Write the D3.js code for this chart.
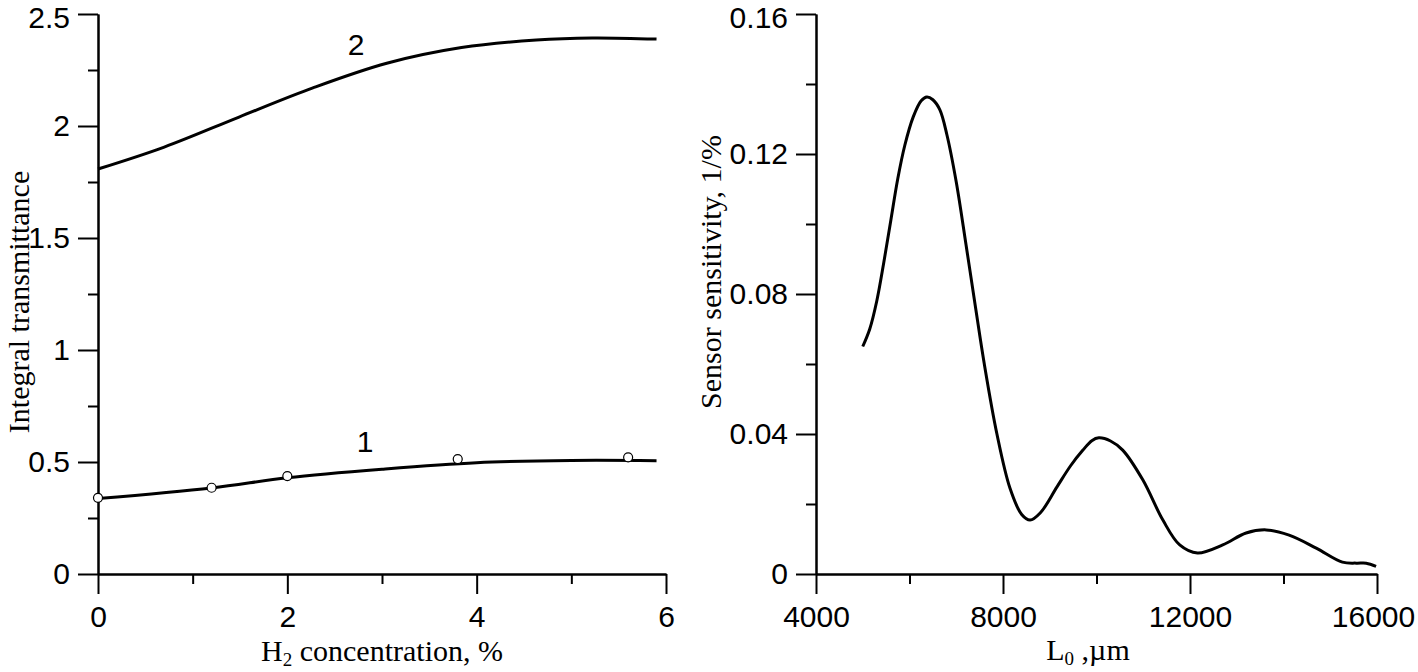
<!DOCTYPE html>
<html>
<head>
<meta charset="utf-8">
<script src="https://cdn.jsdelivr.net/npm/d3@7"></script>
<style>
  body { margin: 0; background: #fff; }
  .axis path, .axis line { stroke: #000; stroke-width: 2; }
  .axis text { font-family: "Liberation Sans", Arial, sans-serif; font-size: 30px; fill: #000; }
  .title { font-family: "Liberation Serif", "Times New Roman", serif; font-size: 30px; fill: #000; }
  .curve { fill: none; stroke: #000; stroke-width: 3; }
</style>
</head>
<body>
<script>
// left panel: integral transmittance vs H2 concentration
const conc1 = [0, 1.2, 2, 3, 4, 5, 5.9];
const trans1 = [0.337, 0.384, 0.430, 0.468, 0.497, 0.507, 0.506];
const conc2 = [0, 0.7, 1.49, 2.27, 3.05, 3.84, 4.63, 5.22, 5.9];
const trans2 = [1.808, 1.906, 2.04, 2.17, 2.28, 2.35, 2.384, 2.393, 2.388];
// measured points (open circles)
const measConc = [0, 1.2, 2, 3.8, 5.6];
const measTrans = [0.34, 0.385, 0.437, 0.513, 0.521];

// right panel: sensor sensitivity vs L0
const lengths = [5000, 5150, 5300, 5450, 5600, 5750, 5900, 6080, 6250, 6370, 6500, 6650, 6800,
  7000, 7210, 7420, 7600, 7870, 8150, 8400, 8580, 8800, 9155, 9450, 9710, 9900, 10050, 10300,
  10560, 10990, 11420, 11780, 12160, 12700, 13200, 13630, 14120, 14700, 15260, 15560, 15770, 15980];
const sens = [0.065, 0.070, 0.078, 0.089, 0.101, 0.113, 0.1225, 0.1306, 0.1352, 0.1363, 0.1355, 0.1326, 0.1255,
  0.112, 0.094, 0.0755, 0.060, 0.040, 0.0245, 0.0170, 0.0154, 0.0175, 0.0249, 0.031, 0.0354, 0.0381, 0.0389, 0.0380,
  0.0354, 0.0269, 0.0154, 0.0083, 0.0060, 0.0083, 0.0117, 0.0126, 0.0111, 0.0074, 0.0034, 0.0031, 0.0031, 0.0022];

// ticks
const xTicksL = [0, 2, 4, 6], xMinorL = [1, 3, 5];
const yTicksL = [0, 0.5, 1, 1.5, 2, 2.5], yMinorL = [0.25, 0.75, 1.25, 1.75, 2.25];
const xTicksR = [4000, 8000, 12000, 16000], xMinorR = [6000, 10000, 14000];
const yTicksR = [0, 0.04, 0.08, 0.12, 0.16], yMinorR = [0.02, 0.06, 0.1, 0.14];

const W = 1418, H = 672;
const svg = d3.select("body").append("svg").attr("width", W).attr("height", H);
svg.append("rect").attr("width", W).attr("height", H).attr("fill", "#fff");

const xL = d3.scaleLinear().domain([0, 6]).range([98, 666]);
const yL = d3.scaleLinear().domain([0, 2.5]).range([574, 14]);
const xR = d3.scaleLinear().domain([4000, 16000]).range([816, 1377]);
const yR = d3.scaleLinear().domain([0, 0.16]).range([574, 14]);

function fmt(d) { return String(d); }

function drawAxes(x, y, xt, xm, yt, ym) {
  // minor ticks first, then major with labels
  svg.append("g").attr("class", "axis").attr("transform", "translate(0," + y.range()[0] + ")")
    .call(d3.axisBottom(x).tickValues(xm).tickSize(10).tickSizeOuter(0).tickFormat(""));
  const gb = svg.append("g").attr("class", "axis").attr("transform", "translate(0," + y.range()[0] + ")")
    .call(d3.axisBottom(x).tickValues(xt).tickSize(20).tickSizeOuter(0).tickPadding(12).tickFormat(fmt));
  // last x label sits at the page edge
  gb.selectAll(".tick text").filter(d => d === 16000).attr("dx", -4);
  svg.append("g").attr("class", "axis").attr("transform", "translate(" + x.range()[0] + ",0)")
    .call(d3.axisLeft(y).tickValues(ym).tickSize(10).tickSizeOuter(0).tickFormat(""));
  const ga = svg.append("g").attr("class", "axis").attr("transform", "translate(" + x.range()[0] + ",0)")
    .call(d3.axisLeft(y).tickValues(yt).tickSize(20).tickSizeOuter(0).tickPadding(8).tickFormat(fmt));
  // nudge the top label so it stays inside the page
  ga.selectAll(".tick text").filter(d => d === yt[yt.length - 1]).attr("dy", "0.45em");
}

drawAxes(xL, yL, xTicksL, xMinorL, yTicksL, yMinorL);
drawAxes(xR, yR, xTicksR, xMinorR, yTicksR, yMinorR);
svg.selectAll(".axis text").attr("font-family", null).attr("font-size", null);

// curves
const lineL = d3.line().x(d => xL(d[0])).y(d => yL(d[1])).curve(d3.curveCatmullRom.alpha(0.5));
svg.append("path").attr("class", "curve").attr("d", lineL(d3.zip(conc1, trans1)));
svg.append("path").attr("class", "curve").attr("d", lineL(d3.zip(conc2, trans2)));

svg.selectAll("circle.meas")
  .data(d3.zip(measConc, measTrans))
  .enter().append("circle")
  .attr("class", "meas")
  .attr("cx", d => xL(d[0]))
  .attr("cy", d => yL(d[1]))
  .attr("r", 4.5)
  .attr("fill", "#fff")
  .attr("stroke", "#000")
  .attr("stroke-width", 1.2);

const lineR = d3.line().x(d => xR(d[0])).y(d => yR(d[1])).curve(d3.curveCatmullRom.alpha(0.5));
svg.append("path").attr("class", "curve").attr("d", lineR(d3.zip(lengths, sens)));

// curve numbers
svg.append("text").attr("x", 365).attr("y", 452).attr("text-anchor", "middle")
  .attr("font-family", "Liberation Sans, Arial, sans-serif").attr("font-size", 30).text("1");
svg.append("text").attr("x", 356).attr("y", 55).attr("text-anchor", "middle")
  .attr("font-family", "Liberation Sans, Arial, sans-serif").attr("font-size", 30).text("2");

// axis titles
const tx1 = svg.append("text").attr("class", "title").attr("x", 382).attr("y", 661).attr("text-anchor", "middle");
tx1.append("tspan").text("H");
tx1.append("tspan").attr("font-size", 19).attr("dy", 5).text("2");
tx1.append("tspan").attr("dy", -5).text(" concentration, %");

const tx2 = svg.append("text").attr("class", "title").attr("x", 1088).attr("y", 660).attr("text-anchor", "middle");
tx2.append("tspan").text("L");
tx2.append("tspan").attr("font-size", 19).attr("dy", 5).text("0");
tx2.append("tspan").attr("dy", -5).text(" ,\u00B5m");

svg.append("text").attr("class", "title")
  .attr("transform", "translate(29,302) rotate(-90)")
  .attr("font-size", 31)
  .attr("text-anchor", "middle").text("Integral transmittance");

svg.append("text").attr("class", "title")
  .attr("transform", "translate(721,272) rotate(-90)")
  .attr("text-anchor", "middle").attr("font-size", 33).text("Sensor sensitivity, 1/%");
</script>
</body>
</html>
